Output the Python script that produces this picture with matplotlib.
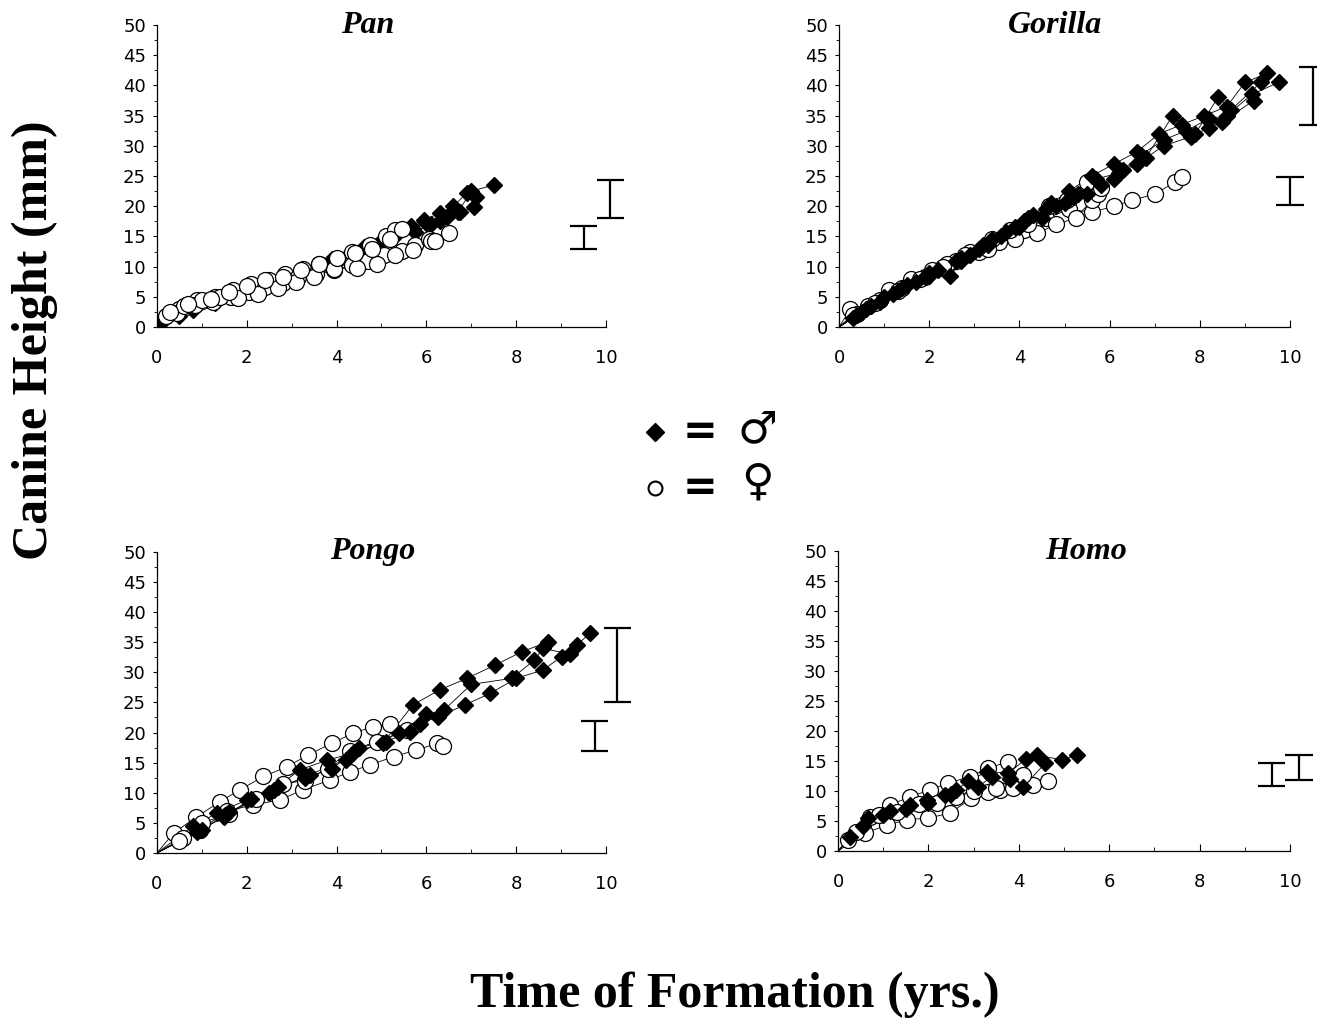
import matplotlib
matplotlib.use("Agg")
import matplotlib.pyplot as plt
from matplotlib.lines import Line2D

# ---- data (time in yrs, canine height in mm) ----
pan_m_x = [[0.1, 0.8, 1.6, 2.4, 3.2, 3.9, 4.6, 5.3, 5.65, 5.95, 6.3, 6.6, 6.9, 7.1],
           [0.5, 1.3, 2.1, 2.9, 3.6, 4.3, 5.0, 5.7, 6.0, 6.3, 6.7, 7.0, 7.5],
           [5.75, 6.1, 6.45, 6.75, 7.05]]
pan_m_y = [[0.6, 2.8, 5.0, 7.2, 9.4, 11.3, 13.3, 15.0, 16.8, 17.8, 18.8, 20.0, 22.2, 21.5],
           [1.8, 4.0, 6.2, 8.5, 10.3, 12.2, 14.2, 16.2, 17.2, 17.5, 19.0, 22.5, 23.5],
           [15.8, 17.0, 18.2, 19.0, 19.8]]
pan_f_x = [[0.2, 0.5, 0.9, 1.3, 1.7, 2.1, 2.5, 2.85, 3.25, 3.6, 4.0, 4.35, 4.75, 5.1, 5.3],
           [0.45, 0.85, 1.25, 1.65, 2.05, 2.4, 2.8, 3.15, 3.55, 3.95, 4.35, 4.7, 5.05, 5.45, 5.75, 6.05, 6.5],
           [0.6, 1.0, 1.4, 1.8, 2.25, 2.7, 3.1, 3.5, 3.95, 4.45, 4.9, 5.3, 5.7, 6.1, 6.2],
           [0.3, 0.7, 1.2, 1.6, 2.0, 2.4, 2.8, 3.2, 3.6, 4.0, 4.4, 4.8, 5.2, 5.45]]
pan_f_y = [[1.8, 3.0, 4.4, 5.0, 6.2, 7.2, 7.8, 8.8, 9.6, 10.4, 11.2, 12.5, 13.6, 15.0, 16.0],
           [2.3, 3.6, 4.1, 5.0, 5.8, 6.6, 7.3, 8.2, 8.8, 9.5, 10.2, 11.0, 12.0, 12.6, 13.5, 14.6, 15.5],
           [3.5, 4.5, 5.0, 4.8, 5.5, 6.4, 7.5, 8.3, 9.6, 9.8, 10.5, 11.9, 12.8, 14.2, 14.3],
           [2.5, 3.8, 4.6, 5.8, 6.8, 7.8, 8.3, 9.4, 10.5, 11.5, 12.3, 13.0, 14.5, 16.2]]

gor_m_x = [[0.3, 0.7, 1.2, 1.7, 2.2, 2.7, 3.2, 3.7, 4.2, 4.7, 5.1, 5.6, 6.1, 6.6, 7.1, 7.6, 8.1, 8.6, 9.0, 9.5],
           [0.4, 0.9, 1.4, 1.9, 2.45, 2.9, 3.4, 3.9, 4.3, 4.8, 5.3, 5.7, 6.2, 6.7, 7.2, 7.7, 8.2, 8.6, 9.15, 9.75],
           [0.5, 1.0, 1.5, 2.0, 2.6, 3.1, 3.6, 4.1, 4.6, 5.2, 5.8, 6.3, 6.8, 7.4, 7.9, 8.4, 8.7, 9.35],
           [0.6, 1.3, 2.0, 2.7, 3.3, 4.0, 4.5, 5.0, 5.5, 6.1, 6.6, 7.2, 7.8, 8.2, 8.5, 9.2]]
gor_m_y = [[1.5, 3.5, 5.5, 7.5, 9.5, 11.5, 13.5, 15.8, 18.0, 20.5, 22.5, 25.0, 27.0, 29.0, 32.0, 33.5, 35.0, 36.5, 40.5, 42.0],
           [2.0, 4.2, 6.5, 8.2, 8.5, 12.0, 14.5, 16.5, 18.5, 20.0, 22.0, 24.5, 25.5, 28.5, 31.0, 32.5, 34.5, 35.0, 38.5, 40.5],
           [2.5, 5.0, 7.0, 9.0, 11.0, 13.0, 15.0, 17.5, 19.5, 21.5, 23.5, 26.0, 28.0, 35.0, 32.0, 38.0, 36.0, 40.5],
           [3.0, 6.0, 8.5, 11.0, 13.5, 16.5, 18.0, 20.5, 22.0, 24.5, 27.0, 30.0, 31.5, 33.0, 34.0, 37.5]]
gor_f_x = [[0.25, 0.65, 1.1, 1.6, 2.05, 2.6, 3.1, 3.55, 4.1, 4.6, 5.1, 5.6, 6.1, 6.5, 7.0, 7.45, 7.6],
           [0.4, 0.9, 1.4, 1.9, 2.4, 2.9, 3.4, 3.9, 4.4, 4.8, 5.25, 5.6, 5.75],
           [0.3, 0.8, 1.3, 1.8, 2.3, 2.8, 3.3, 3.8, 4.2, 4.65, 5.05, 5.5, 5.8]]
gor_f_y = [[3.0, 3.5, 6.2, 8.0, 9.5, 11.0, 12.5, 14.0, 16.0, 18.0, 19.5, 19.0, 20.0, 21.0, 22.0, 24.0, 24.8],
           [2.2, 4.5, 6.5, 8.3, 10.5, 12.5, 14.5, 14.5, 15.5, 17.0, 18.0, 21.0, 22.0],
           [2.0, 4.0, 6.0, 8.0, 10.0, 12.0, 13.0, 16.0, 17.0, 20.0, 21.0, 24.0, 23.0]]

pon_m_x = [[0.8, 1.33, 2.0, 2.6, 3.18, 3.78, 4.37, 5.03, 5.7, 6.3, 6.9, 7.53, 8.12, 8.72],
           [0.9, 1.5, 2.1, 2.7, 3.3, 3.9, 4.5, 5.1, 5.63, 5.86, 6.26, 6.86, 7.42, 8.0, 8.6, 9.01, 9.35, 9.64],
           [1.0, 1.6, 2.5, 3.4, 4.2, 5.4, 6.0, 6.4, 7.0, 7.9, 8.4, 8.6, 9.2]]
pon_m_y = [[4.4, 6.6, 8.8, 10.5, 13.8, 15.4, 16.6, 18.2, 24.6, 27.1, 29.0, 31.2, 33.4, 35.1],
           [3.5, 6.0, 9.0, 11.0, 12.5, 14.0, 17.5, 18.5, 20.1, 21.5, 22.6, 24.6, 26.5, 29.0, 30.4, 32.6, 34.5, 36.5],
           [3.8, 6.8, 10.0, 13.0, 15.5, 20.0, 23.0, 23.8, 28.0, 29.0, 32.0, 34.0, 33.0]]
pon_f_x = [[0.37, 0.88, 1.4, 1.85, 2.37, 2.89, 3.37, 3.89, 4.37, 4.82, 5.19],
           [0.58, 0.96, 1.55, 2.14, 2.74, 3.25, 3.85, 4.3, 4.74, 5.27, 5.78, 6.24, 6.37],
           [0.5, 1.0, 1.6, 2.2, 2.8, 3.3, 3.8, 4.3, 4.9, 5.56]]
pon_f_y = [[3.3, 6.0, 8.5, 10.5, 12.7, 14.3, 16.3, 18.2, 19.9, 21.0, 21.5],
           [2.5, 3.8, 6.9, 8.0, 8.8, 10.5, 12.1, 13.5, 14.6, 16.0, 17.1, 18.2, 17.7],
           [2.0, 5.0, 6.5, 9.0, 11.5, 12.0, 14.0, 17.0, 18.5, 20.4]]

hom_m_x = [[0.27, 0.67, 1.15, 1.6, 1.96, 2.37, 2.62, 2.87, 3.29, 3.77, 4.17, 4.4, 4.95, 5.28],
           [0.56, 1.0, 1.5, 2.0, 2.5, 3.1, 3.4, 3.8, 4.1, 4.58]]
hom_m_y = [[2.4, 5.5, 6.6, 7.7, 8.5, 9.3, 10.2, 11.6, 13.2, 13.0, 15.4, 16.0, 15.2, 16.0],
           [4.1, 6.0, 7.0, 8.0, 9.5, 10.7, 12.4, 12.0, 10.7, 14.6]]
hom_f_x = [[0.22, 0.7, 1.15, 1.59, 2.03, 2.43, 2.92, 3.32, 3.77],
           [0.6, 1.08, 1.52, 1.99, 2.48, 2.95, 3.32, 3.58, 3.87, 4.31, 4.64],
           [0.4, 0.9, 1.3, 1.8, 2.2, 2.6, 3.0, 3.5, 4.1]]
hom_f_y = [[1.8, 5.7, 7.7, 9.0, 10.2, 11.3, 12.4, 13.8, 14.9],
           [3.0, 4.3, 5.2, 5.5, 6.3, 8.8, 9.9, 10.2, 10.5, 11.0, 11.6],
           [3.2, 6.0, 6.5, 7.8, 8.0, 9.0, 10.0, 10.5, 12.7]]

# range bars (x position, low, high) -- female then male
pan_bars = [(9.5, 13.0, 16.7), (10.1, 18.0, 24.3)]
gor_bars = [(10.0, 20.2, 24.8), (10.5, 33.5, 43.0)]
pon_bars = [(9.75, 17.0, 22.0), (10.25, 25.0, 37.3)]
hom_bars = [(9.6, 10.8, 14.6), (10.2, 11.8, 16.0)]

titles = ["Pan", "Gorilla", "Pongo", "Homo"]

fig = plt.figure(figsize=(13.17, 10.21), dpi=100)

panels = [
    ([0.1192, 0.6797, 0.3409, 0.2958], pan_m_x, pan_m_y, pan_f_x, pan_f_y, pan_bars, 0.47, False),
    ([0.6371, 0.6797, 0.3424, 0.2958], gor_m_x, gor_m_y, gor_f_x, gor_f_y, gor_bars, 0.48, True),
    ([0.1192, 0.1646, 0.3409, 0.2948], pon_m_x, pon_m_y, pon_f_x, pon_f_y, pon_bars, 0.48, True),
    ([0.6363, 0.1665, 0.3432, 0.2938], hom_m_x, hom_m_y, hom_f_x, hom_f_y, hom_bars, 0.55, True),
]

for title, (rect, mx, my, fx, fy, bars, tx, males_top) in zip(titles, panels):
    ax = fig.add_axes(rect)
    zm = 4 if males_top else 3
    zf = 3 if males_top else 4
    for xs, ys in zip(mx, my):
        ax.plot([0] + xs, [0] + ys, color="black", lw=0.6, zorder=2)
        ax.plot(xs, ys, ls="none", marker="D", ms=8.5, mfc="black", mec="black", zorder=zm)
    for xs, ys in zip(fx, fy):
        ax.plot([0] + xs, [0] + ys, color="black", lw=0.6, zorder=2)
        ax.plot(xs, ys, ls="none", marker="o", ms=11.5, mfc="white", mec="black", mew=0.9, zorder=zf)
    for bx, lo, hi in bars:
        ax.vlines(bx, lo, hi, color="black", lw=1.6, clip_on=False)
        ax.hlines([lo, hi], bx - 0.3, bx + 0.3, color="black", lw=1.6, clip_on=False)
    ax.set_xlim(0, 10)
    ax.set_ylim(0, 50)
    ax.set_xticks([0, 2, 4, 6, 8, 10])
    ax.set_xticks([1, 3, 5, 7, 9], minor=True)
    ax.set_yticks(range(0, 51, 5))
    ax.set_yticks([2.5 + 5 * i for i in range(10)], minor=True)
    ax.tick_params(axis="x", direction="in", length=5, width=0.8, pad=16, labelsize=13)
    ax.tick_params(axis="x", which="minor", direction="in", length=3, width=0.6)
    ax.tick_params(axis="y", direction="out", length=3, width=0.8, pad=5, labelsize=13)
    ax.tick_params(axis="y", which="minor", direction="out", length=2, width=0.6)
    for s in ["top", "right"]:
        ax.spines[s].set_visible(False)
    for s in ["left", "bottom"]:
        ax.spines[s].set_linewidth(0.9)
    ax.text(tx, 1.0, title, transform=ax.transAxes, ha="center", va="center",
            fontsize=23, fontweight="bold", fontstyle="italic", family="Liberation Serif")

# sex key in the middle
fig.add_artist(Line2D([655 / 1317], [1 - 432 / 1021], transform=fig.transFigure,
                      marker="D", ms=9, mfc="black", mec="black", ls="none"))
fig.add_artist(Line2D([655 / 1317], [1 - 488 / 1021], transform=fig.transFigure,
                      marker="o", ms=10, mfc="white", mec="black", mew=1.5, ls="none"))
fig.text(700 / 1317, 1 - 432 / 1021, "=", ha="center", va="center", fontsize=30, fontweight="bold")
fig.text(700 / 1317, 1 - 488 / 1021, "=", ha="center", va="center", fontsize=30, fontweight="bold")
fig.text(757 / 1317, 1 - 430 / 1021, "\u2642", ha="center", va="center", fontsize=32)
fig.text(757 / 1317, 1 - 482 / 1021, "\u2640", ha="center", va="center", fontsize=32)

fig.text(35 / 1317, 1 - 340 / 1021, "Canine Height (mm)", rotation=90, ha="center", va="center",
         fontsize=36, fontweight="bold", family="Liberation Serif")
fig.text(735 / 1317, 1 - 995 / 1021, "Time of Formation (yrs.)", ha="center", va="center",
         fontsize=36, fontweight="bold", family="Liberation Serif")

fig.savefig("out.png", dpi=100)
